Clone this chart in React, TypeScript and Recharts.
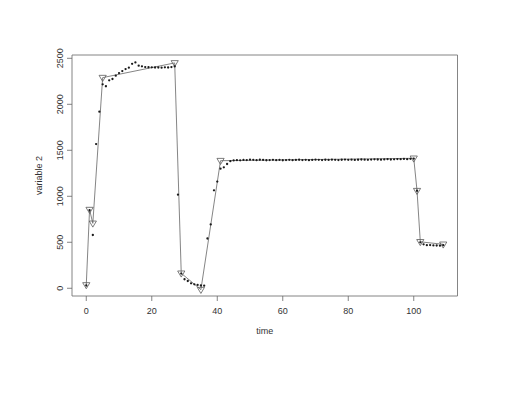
import React from "react";
import {
  ComposedChart,
  Line,
  Scatter,
  XAxis,
  YAxis,
  ReferenceArea,
  Label,
} from "recharts";

// Observed series: value at each time step 0..109
const observedValues: number[] = [
  30, 848, 579, 1568, 1920, 2217, 2196, 2261, 2275, 2311,
  2340, 2361, 2383, 2398, 2440, 2455, 2420, 2413, 2405, 2403,
  2402, 2400, 2400, 2398, 2402, 2400, 2405, 2412, 1017, 160,
  98, 79, 54, 43, 36, 30, 28, 541, 694, 1065,
  1160, 1300, 1315, 1351, 1382, 1390, 1393, 1391, 1395, 1394,
  1398, 1396, 1393, 1397, 1395, 1392, 1394, 1396, 1393, 1395,
  1392, 1394, 1396, 1393, 1395, 1397, 1394, 1396, 1393, 1395,
  1398, 1396, 1394, 1397, 1395, 1398, 1396, 1394, 1397, 1399,
  1396, 1398, 1395, 1397, 1400, 1398, 1396, 1399, 1402, 1400,
  1398, 1401, 1403, 1400, 1402, 1405, 1403, 1406, 1404, 1407,
  1410, 1060, 500, 478, 468, 470, 466, 465, 463, 468,
];

// Piecewise fit: breakpoints (time, value)
const fitTimes: number[] = [0, 1, 2, 5, 27, 29, 35, 41, 100, 101, 102, 109];
const fitValues: number[] = [36, 855, 706, 2290, 2450, 163, -15, 1387, 1413, 1061, 505, 478];

const xTicks: number[] = [0, 20, 40, 60, 80, 100];
const yTicks: number[] = [0, 500, 1000, 1500, 2000, 2500];

const X_DOMAIN: [number, number] = [-4.36, 113.36];
const Y_DOMAIN: [number, number] = [-84, 2536];

const dots = observedValues.map((v, i) => ({ t: i, v }));
const fit = fitTimes.map((t, i) => ({ t, v: fitValues[i] }));

const FONT = "'Liberation Sans', Arial, Helvetica, sans-serif";

const DotShape = (props: any) => {
  const { cx, cy } = props;
  if (cx == null || cy == null) return <g />;
  return <circle cx={cx} cy={cy} r={1.15} fill="#1a1a1a" />;
};

const TriangleDot = (props: any) => {
  const { cx, cy, index } = props;
  if (cx == null || cy == null) return <g key={`tri-${index}`} />;
  const h = 3.6;
  const top = cy - 2.3;
  const pts = `${cx - h},${top} ${cx + h},${top} ${cx},${cy + 3.8}`;
  return (
    <polygon
      key={`tri-${index}`}
      points={pts}
      fill="none"
      stroke="#5a5a5a"
      strokeWidth={0.8}
    />
  );
};

const YTick = (props: any) => {
  const { x, y, payload } = props;
  return (
    <text
      x={x}
      y={y}
      transform={`rotate(-90 ${x} ${y})`}
      textAnchor="middle"
      fontSize={9}
      fontFamily={FONT}
      fill="#333"
    >
      {payload.value}
    </text>
  );
};

export default function App() {
  return (
    <div style={{ position: "absolute", left: 0, top: 0, background: "#fff" }}>
      <ComposedChart
        width={517}
        height={400}
        margin={{ top: 55, right: 59.5, bottom: 74, left: 42 }}
        style={{ background: "#fff" }}
      >
        <XAxis
          type="number"
          dataKey="t"
          domain={X_DOMAIN}
          ticks={xTicks}
          allowDataOverflow
          axisLine={false}
          tickLine={{ stroke: "#666", strokeWidth: 0.8 }}
          tickSize={5}
          tickMargin={6.5}
          height={30}
          tick={{ fontSize: 9, fontFamily: FONT, fill: "#333" }}
        >
          <Label
            value="time"
            position="bottom"
            offset={2}
            style={{ fontSize: 9, fontFamily: FONT, fill: "#333" }}
          />
        </XAxis>
        <YAxis
          type="number"
          dataKey="v"
          domain={Y_DOMAIN}
          ticks={yTicks}
          allowDataOverflow
          axisLine={false}
          tickLine={{ stroke: "#666", strokeWidth: 0.8 }}
          tickSize={5}
          tickMargin={4}
          width={30}
          tick={<YTick />}
        >
          <Label
            content={(p: any) => {
              const vb = p.viewBox || {};
              const cx = 39 + 3.2;
              const cy = (vb.y ?? 55) + (vb.height ?? 241) / 2;
              return (
                <text
                  x={cx}
                  y={cy}
                  transform={`rotate(-90 ${cx} ${cy})`}
                  textAnchor="middle"
                  fontSize={9}
                  fontFamily={FONT}
                  fill="#333"
                >
                  variable 2
                </text>
              );
            }}
          />
        </YAxis>
        <ReferenceArea
          x1={X_DOMAIN[0]}
          x2={X_DOMAIN[1]}
          y1={Y_DOMAIN[0]}
          y2={Y_DOMAIN[1]}
          fill="none"
          fillOpacity={0}
          stroke="#777"
          strokeWidth={0.9}
          ifOverflow="visible"
        />
        <Line
          data={fit}
          dataKey="v"
          stroke="#666"
          strokeWidth={0.8}
          dot={<TriangleDot />}
          activeDot={false}
          isAnimationActive={false}
        />
        <Scatter
          data={dots}
          dataKey="v"
          shape={<DotShape />}
          isAnimationActive={false}
        />
      </ComposedChart>
    </div>
  );
}
